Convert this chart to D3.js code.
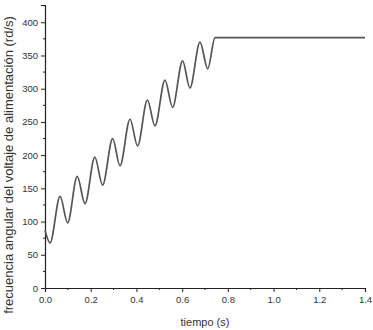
<!DOCTYPE html>
<html>
<head>
<meta charset="utf-8">
<script src="https://cdn.jsdelivr.net/npm/d3@7"></script>
<style>
  body { margin: 0; background: #fff; }
  text { font-family: "Liberation Sans", Arial, sans-serif; fill: #333; }
</style>
</head>
<body>
<svg id="chart" width="373" height="330"></svg>
<script>
// tiempo (s) and frecuencia (rd/s), read at the turning points of the curve
let tiempo = [0, 0.022, 0.066, 0.099, 0.141, 0.175, 0.218, 0.252, 0.296, 0.328, 0.372, 0.405,
    0.448, 0.481, 0.525, 0.558, 0.602, 0.634, 0.678, 0.712, 0.744, 1.4]
let frecuencia = [87, 68, 138, 98, 168, 127, 197, 155, 225, 184, 254, 214,
    283, 244, 313, 272, 342, 301, 370, 330, 377, 377]

let xTicks = [0, 0.2, 0.4, 0.6, 0.8, 1.0, 1.2, 1.4]
let yTicks = [0, 50, 100, 150, 200, 250, 300, 350, 400]

let svg = d3.select('#chart')

let marginLeft = 45, plotRight = 365, plotTop = 5, plotBottom = 288

let xScale = d3.scaleLinear().domain([0, 1.4]).range([marginLeft, plotRight])
let yScale = d3.scaleLinear().domain([0, 426]).range([plotBottom, plotTop])

// minor ticks
let xMinor = d3.range(0.1, 1.4, 0.2)
let yMinor = d3.range(25, 426, 50)

let xAxis = svg.append('g')
    .attr('transform', 'translate(0,' + plotBottom + ')')
    .call(d3.axisBottom(xScale).tickValues(xTicks).tickSize(4).tickPadding(4)
        .tickFormat(d3.format('.1f')))
xAxis.append('g').selectAll('line').data(xMinor).enter().append('line')
    .attr('x1', d => xScale(d)).attr('x2', d => xScale(d))
    .attr('y1', 0).attr('y2', 2).attr('stroke', '#222')

let yAxis = svg.append('g')
    .attr('transform', 'translate(' + marginLeft + ',0)')
    .call(d3.axisLeft(yScale).tickValues(yTicks).tickSize(4).tickPadding(3))
yAxis.append('g').selectAll('line').data(yMinor).enter().append('line')
    .attr('y1', d => yScale(d)).attr('y2', d => yScale(d))
    .attr('x1', 0).attr('x2', -2).attr('stroke', '#222')

svg.selectAll('.domain').attr('stroke', '#222').attr('stroke-width', 1.2)
svg.selectAll('.tick line').attr('stroke', '#222')
svg.selectAll('.tick text').attr('font-size', 9.5).attr('fill', '#444')
    .attr('font-family', '"Liberation Sans", Arial, sans-serif')

let points = tiempo.map((t, i) => [t, frecuencia[i]])

let line = d3.line()
    .x(d => xScale(d[0]))
    .y(d => yScale(d[1]))
    .curve(d3.curveMonotoneX)

svg.append('path')
    .datum(points)
    .attr('d', line)
    .attr('fill', 'none')
    .attr('stroke', '#555')
    .attr('stroke-width', 1.7)

svg.append('text')
    .attr('x', 205)
    .attr('y', 326)
    .attr('text-anchor', 'middle')
    .attr('font-size', 11)
    .text('tiempo (s)')

svg.append('text')
    .attr('transform', 'translate(13,165) rotate(-90)')
    .attr('text-anchor', 'middle')
    .attr('font-size', 13)
    .text('frecuencia angular del voltaje de alimentación (rd/s)')
</script>
</body>
</html>
